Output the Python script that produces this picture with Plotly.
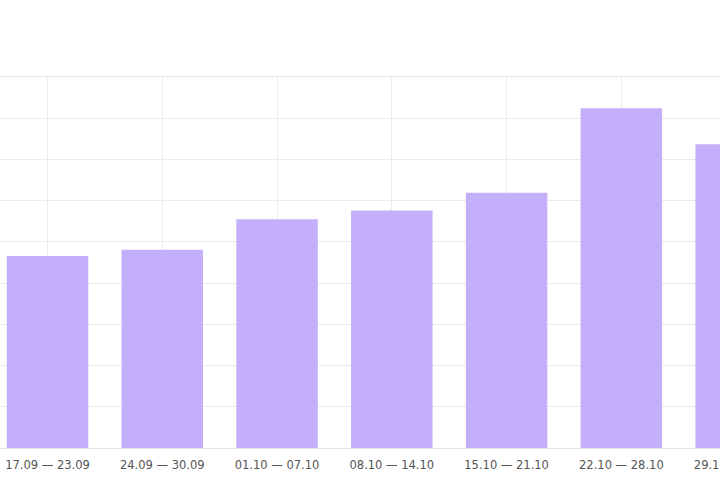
import plotly.graph_objects as go

weeks = ["17.09 — 23.09", "24.09 — 30.09", "01.10 — 07.10", "08.10 — 14.10",
         "15.10 — 21.10", "22.10 — 28.10", "29.10 — 04.11"]
values = [466, 481, 555, 576, 619, 824, 737]

BAR = "#c4b0fa"
GRID = "#ebebeb"

fig = go.Figure(go.Bar(
    x=list(range(len(weeks))), y=values,
    marker=dict(color=BAR, line=dict(width=0)),
    width=0.71,
))

fig.update_layout(
    width=805, height=480,
    margin=dict(l=0, r=0, t=77, b=32),
    paper_bgcolor="white", plot_bgcolor="white",
    showlegend=False,
    font=dict(family="DejaVu Sans", size=11.5, color="#555555"),
)
fig.update_xaxes(
    tickmode="array", tickvals=list(range(len(weeks))), ticktext=weeks,
    range=[-0.414, 6.6],
    showgrid=True, gridcolor=GRID, gridwidth=1,
    showline=True, linecolor="#e4e4e4", linewidth=1, mirror=True,
    ticks="outside", ticklen=6, tickcolor="rgba(0,0,0,0)",
    zeroline=False,
)
fig.update_yaxes(
    range=[0, 900], dtick=100,
    showgrid=True, gridcolor=GRID, gridwidth=1,
    showticklabels=False, zeroline=False,
)

fig.write_html("out.html", config={"displayModeBar": False}, post_script=(
    "document.body.style.margin='0';"
    "document.body.style.overflow='hidden';"
    "document.documentElement.style.overflow='hidden';"
))
